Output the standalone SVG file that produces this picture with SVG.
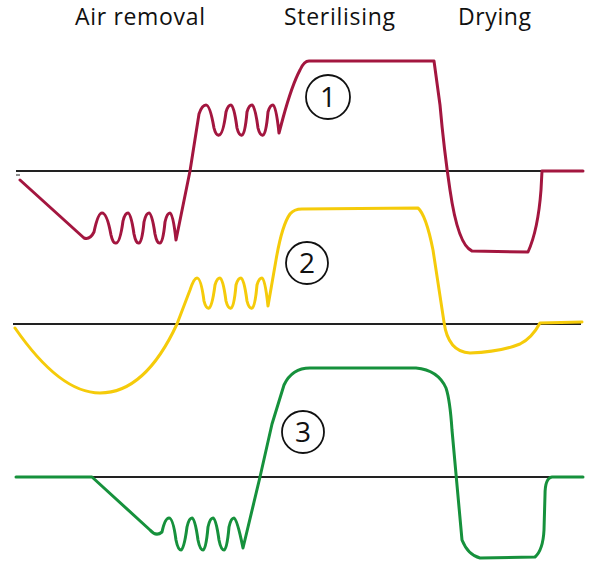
<svg xmlns="http://www.w3.org/2000/svg" width="600" height="571" viewBox="0 0 600 571">
<style>
.t{font-family:"Open Sans","Liberation Sans",sans-serif;font-size:23px;fill:#111}
.n{font-family:"Open Sans","Liberation Sans",sans-serif;font-size:28px;fill:#111;text-anchor:middle}
.axis{stroke:#222;stroke-width:2;fill:none}
.c{fill:none;stroke-width:3;stroke-linejoin:round;stroke-linecap:round}
.circ{fill:none;stroke:#111;stroke-width:1.8}
</style>
<rect width="600" height="571" fill="#fff"/>
<g id="labels">
<text class="t" x="75" y="25" textLength="130">Air removal</text>
<text class="t" x="284" y="25" textLength="111">Sterilising</text>
<text class="t" x="458" y="25" textLength="73">Drying</text>
</g>
<g id="axes">
<line class="axis" x1="16" y1="171" x2="583" y2="171"/>
<line class="axis" x1="13" y1="324" x2="581" y2="324"/>
<line class="axis" x1="16" y1="477" x2="583" y2="477"/>
<line x1="16" y1="175" x2="20" y2="175" stroke="#222" stroke-width="1"/>
</g>
<g id="connectors">
<path id="curve1" class="c" stroke="#a3163f" d="M20,180 L84,238 Q90,240 94,232 Q98,213 102,213 Q107,213 111,235 Q113,244 116,243 Q120,243 123,221 Q125,213 128,213 Q131,213 134,234 Q136,244 139,243 Q142,243 144,222 Q146,213 149,213 Q152,213 155,234 Q157,244 160,243 Q163,243 165,222 Q167,213 170,213 Q173,213 176,240 L190,171 L199,114 Q202,105 206,105 Q210,105 214,128 Q216,136 219,135 Q223,135 226,112 Q228,105 231,105 Q234,105 237,128 Q239,136 242,135 Q245,135 247,112 Q249,105 252,105 Q255,105 258,128 Q260,136 263,135 Q266,135 268,112 Q270,105 273,105 Q276,105 279,133 L283,118 Q292,85 300,70 Q304,61 309,61 L434,61 L440,105 Q444,150 450,190 Q458,245 472,251 L528,252 Q538,230 541,190 L542,171 L583,171"/>
<path id="curve2" class="c" stroke="#f5cb0a" d="M15,328 Q60,393 100,393 Q145,393 177,324 L190,290 Q194,278 197,278 Q201,278 204,301 Q206,309 209,308 Q212,308 215,285 Q217,278 220,278 Q223,278 226,301 Q228,309 231,308 Q234,308 236,285 Q238,278 241,278 Q244,278 247,301 Q249,309 252,308 Q255,308 257,285 Q259,278 262,278 Q265,278 268,306 L276,260 Q282,225 290,214 Q294,209 302,209 L418,208 Q426,215 433,250 L444,322 Q448,352 470,353 Q500,352 520,344 Q532,338 540,323 L582,322"/>
<path id="curve3" class="c" stroke="#16913c" d="M16,477 L92,477 L150,530 Q156,537 162,532 Q165,518 169,518 Q173,518 176,540 Q178,550 181,550 Q184,550 187,527 Q189,518 192,518 Q195,518 198,540 Q200,550 203,550 Q206,550 208,527 Q210,518 213,518 Q216,518 219,540 Q221,550 224,550 Q227,550 229,527 Q231,518 234,518 Q237,518 243,548 L260,477 L272,424 L284,385 Q292,368 310,368 L416,368 Q438,370 446,388 Q450,400 452,430 L462,540 Q468,555 480,558 L535,557 Q543,550 544,530 L545,495 Q545,478 552,477 L583,477"/>
</g>
<g id="node1"><circle class="circ" cx="328" cy="97" r="22"/><text class="n" x="328" y="107">1</text></g>
<g id="node2"><circle class="circ" cx="307" cy="263" r="21"/><text class="n" x="307" y="273">2</text></g>
<g id="node3"><circle class="circ" cx="303" cy="432" r="21"/><text class="n" x="303" y="442">3</text></g>
</svg>
